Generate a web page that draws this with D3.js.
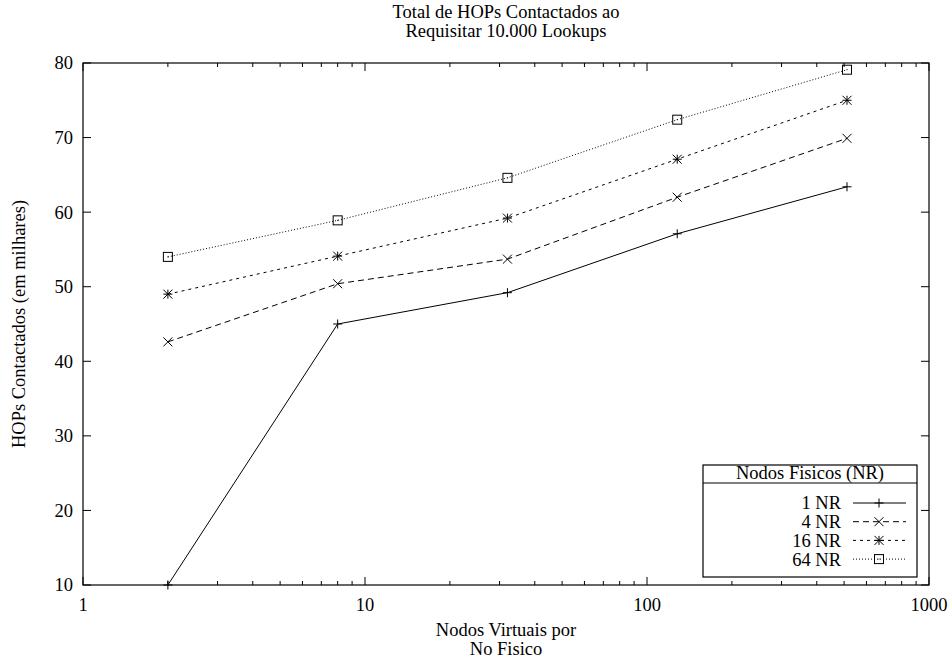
<!DOCTYPE html>
<html>
<head>
<meta charset="utf-8">
<script src="https://cdn.jsdelivr.net/npm/d3@7"></script>
<style>
  body { margin: 0; background: #fff; }
</style>
</head>
<body>
<div id="chart"></div>
<script>
// data
const nodosVirtuais = [2, 8, 32, 128, 512];
const hops1NR = [10, 45.0, 49.2, 57.1, 63.4];
const hops4NR = [42.6, 50.4, 53.7, 62.0, 69.9];
const hops16NR = [49.0, 54.1, 59.2, 67.1, 75.0];
const hops64NR = [54.0, 58.9, 64.6, 72.4, 79.1];
const seriesNames = ["1 NR", "4 NR", "16 NR", "64 NR"];
const xTicks = [1, 10, 100, 1000];
const yTicks = [10, 20, 30, 40, 50, 60, 70, 80];

const W = 952, H = 662;
const margin = { top: 63, right: 23, bottom: 77, left: 83 };

const svg = d3.select("#chart").append("svg")
  .attr("width", W).attr("height", H)
  .attr("font-family", "Liberation Serif, Times New Roman, serif");

const x = d3.scaleLog().domain([1, 1000]).range([margin.left, W - margin.right]);
const y = d3.scaleLinear().domain([10, 80]).range([H - margin.bottom, margin.top]);

const x0 = margin.left, x1 = W - margin.right, y0 = H - margin.bottom, y1 = margin.top;
const fontSize = 18.5;

// ticks (inward, mirrored like gnuplot)
const minorX = [];
[1, 10, 100].forEach(d => { for (let k = 2; k <= 9; k++) minorX.push(d * k); });

const ticks = svg.append("g").attr("stroke", "#000").attr("stroke-width", 1);
xTicks.forEach(v => {
  ticks.append("line").attr("x1", x(v)).attr("x2", x(v)).attr("y1", y0).attr("y2", y0 - 8);
  ticks.append("line").attr("x1", x(v)).attr("x2", x(v)).attr("y1", y1).attr("y2", y1 + 8);
});
minorX.forEach(v => {
  ticks.append("line").attr("x1", x(v)).attr("x2", x(v)).attr("y1", y0).attr("y2", y0 - 4);
  ticks.append("line").attr("x1", x(v)).attr("x2", x(v)).attr("y1", y1).attr("y2", y1 + 4);
});
yTicks.forEach(v => {
  ticks.append("line").attr("x1", x0).attr("x2", x0 + 8).attr("y1", y(v)).attr("y2", y(v));
  ticks.append("line").attr("x1", x1).attr("x2", x1 - 8).attr("y1", y(v)).attr("y2", y(v));
});

// tick labels
svg.append("g").selectAll("text").data(xTicks).join("text")
  .attr("x", d => x(d)).attr("y", y0 + 26)
  .attr("text-anchor", "middle").attr("font-size", fontSize)
  .text(d => d);
svg.append("g").selectAll("text").data(yTicks).join("text")
  .attr("x", x0 - 10).attr("y", d => y(d)).attr("dy", "0.35em")
  .attr("text-anchor", "end").attr("font-size", fontSize)
  .text(d => d);

// frame
svg.append("rect")
  .attr("x", x0).attr("y", y1).attr("width", x1 - x0).attr("height", y0 - y1)
  .attr("fill", "none").attr("stroke", "#000").attr("stroke-width", 1.2);

// titles
const cx = (x0 + x1) / 2;
svg.append("text").attr("x", cx).attr("y", 18).attr("text-anchor", "middle")
  .attr("font-size", fontSize).text("Total de HOPs Contactados ao");
svg.append("text").attr("x", cx).attr("y", 37).attr("text-anchor", "middle")
  .attr("font-size", fontSize).text("Requisitar 10.000 Lookups");

svg.append("text").attr("x", cx).attr("y", 636).attr("text-anchor", "middle")
  .attr("font-size", fontSize).text("Nodos Virtuais por");
svg.append("text").attr("x", cx).attr("y", 655).attr("text-anchor", "middle")
  .attr("font-size", fontSize).text("No Fisico");

svg.append("text")
  .attr("transform", `translate(25,${(y0 + y1) / 2}) rotate(-90)`)
  .attr("text-anchor", "middle").attr("font-size", fontSize)
  .text("HOPs Contactados (em milhares)");

// series
const dashes = [null, "6,4", "3,4", "1,2"];
const allSeries = [hops1NR, hops4NR, hops16NR, hops64NR];
const line = d3.line().x(d => x(d[0])).y(d => y(d[1]));

function marker(g, kind, mx, my) {
  const s = 4.5;
  const p = g.append("g").attr("transform", `translate(${mx},${my})`)
    .attr("stroke", "#000").attr("stroke-width", 1).attr("fill", "none");
  if (kind === 0 || kind === 2) {
    p.append("path").attr("d", `M${-s},0H${s}M0,${-s}V${s}`);
  }
  if (kind === 1 || kind === 2) {
    p.append("path").attr("d", `M${-s},${-s}L${s},${s}M${-s},${s}L${s},${-s}`);
  }
  if (kind === 3) {
    p.append("rect").attr("x", -s).attr("y", -s).attr("width", 2 * s).attr("height", 2 * s);
    p.append("rect").attr("x", -0.5).attr("y", -0.5).attr("width", 1).attr("height", 1).attr("fill", "#000").attr("stroke", "none");
  }
}

const plot = svg.append("g");
allSeries.forEach((vals, i) => {
  const pts = nodosVirtuais.map((n, j) => [n, vals[j]]);
  plot.append("path").datum(pts)
    .attr("d", line)
    .attr("fill", "none").attr("stroke", "#000").attr("stroke-width", 1)
    .attr("stroke-dasharray", dashes[i]);
  pts.forEach(p => marker(plot, i, x(p[0]), y(p[1])));
});

// legend
const lg = svg.append("g");
lg.append("rect").attr("x", 703).attr("y", 465).attr("width", 214).attr("height", 112)
  .attr("fill", "#fff").attr("stroke", "#000").attr("stroke-width", 1.2);
lg.append("line").attr("x1", 703).attr("x2", 917).attr("y1", 483).attr("y2", 483)
  .attr("stroke", "#000").attr("stroke-width", 1.2);
lg.append("text").attr("x", 810).attr("y", 479).attr("text-anchor", "middle")
  .attr("font-size", fontSize).text("Nodos Fisicos (NR)");
seriesNames.forEach((name, i) => {
  const ly = 503 + i * 18.7;
  lg.append("text").attr("x", 841).attr("y", ly).attr("dy", "0.35em")
    .attr("text-anchor", "end").attr("font-size", fontSize).text(name);
  lg.append("line").attr("x1", 853).attr("x2", 906).attr("y1", ly).attr("y2", ly)
    .attr("stroke", "#000").attr("stroke-width", 1).attr("stroke-dasharray", dashes[i]);
  marker(lg, i, 879, ly);
});
</script>
</body>
</html>
